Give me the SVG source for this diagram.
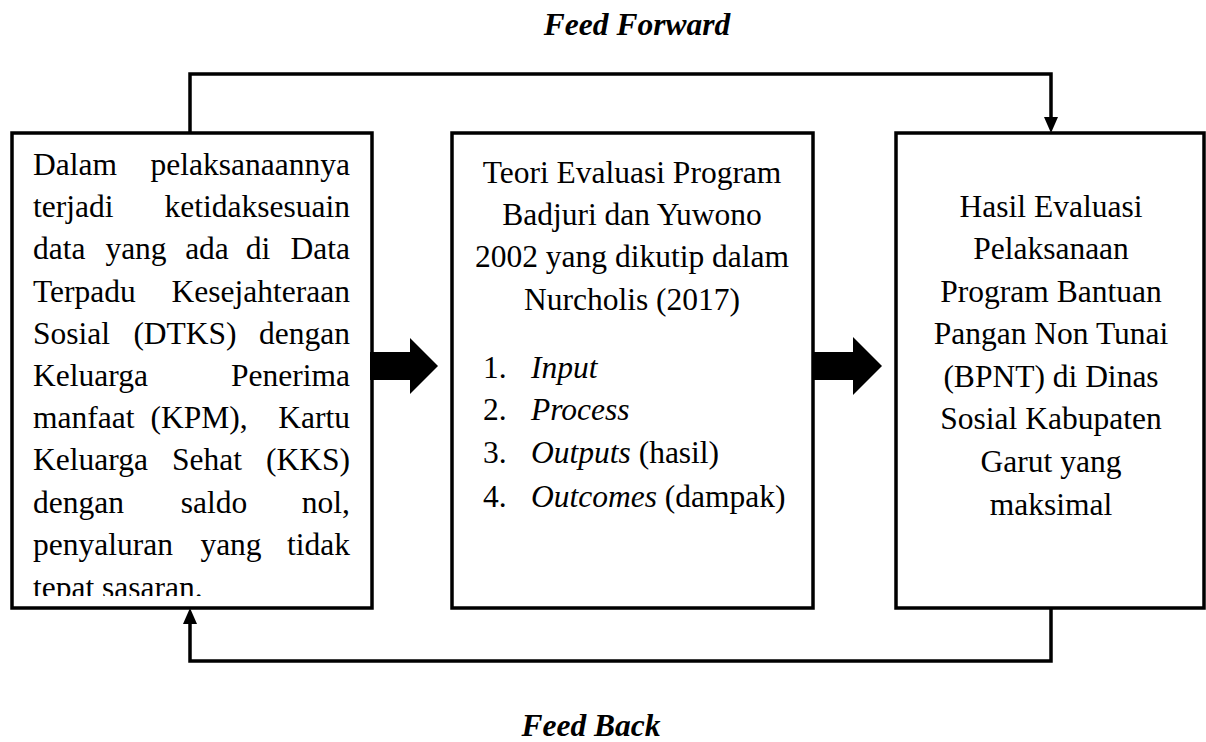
<svg xmlns="http://www.w3.org/2000/svg" width="1206" height="742" viewBox="0 0 1206 742">
<style>
.t{font-family:"Liberation Serif","Times New Roman",serif;font-size:31.5px;fill:#000}
.i{font-style:italic}
.bi{font-family:"Liberation Serif","Times New Roman",serif;font-size:31.5px;font-weight:bold;font-style:italic;fill:#000}
.box{fill:#fff;stroke:#000;stroke-width:3.5}
.ln{fill:none;stroke:#000;stroke-width:3.5}
.m{text-anchor:middle}
.e{text-anchor:end}
</style>
<defs>
<clipPath id="clipL"><rect x="14" y="135" width="356" height="461"/></clipPath>
</defs>
<rect width="1206" height="742" fill="#fff"/>
<text class="bi" x="637" y="35" text-anchor="middle">Feed Forward</text>
<text class="bi" x="591" y="736" text-anchor="middle">Feed Back</text>
<g id="connectors">
<polyline class="ln" points="190,133 190,74 1051,74 1051,118"/>
<polygon points="1044,117 1058,117 1051,133" fill="#000"/>
<polyline class="ln" points="1051,608 1051,661 190,661 190,623"/>
<polygon points="183,624 197,624 190,608" fill="#000"/>
</g>
<g id="node-left">
<rect class="box" x="12" y="133" width="360" height="475"/>
<g class="t" clip-path="url(#clipL)">
<text x="33" y="175">Dalam</text><text class="e" x="350" y="175">pelaksanaannya</text>
<text x="33" y="217">terjadi</text><text class="e" x="350" y="217">ketidaksesuain</text>
<text x="33" y="259">data</text><text class="m" x="136" y="259">yang</text><text class="m" x="207" y="259">ada</text><text class="m" x="258" y="259">di</text><text class="e" x="350" y="259">Data</text>
<text x="33" y="302">Terpadu</text><text class="e" x="350" y="302">Kesejahteraan</text>
<text x="33" y="344">Sosial</text><text class="m" x="185" y="344">(DTKS)</text><text class="e" x="350" y="344">dengan</text>
<text x="33" y="386">Keluarga</text><text class="e" x="350" y="386">Penerima</text>
<text x="33" y="428">manfaat</text><text class="m" x="199" y="428">(KPM),</text><text class="e" x="350" y="428">Kartu</text>
<text x="33" y="470">Keluarga</text><text class="m" x="207" y="470">Sehat</text><text class="e" x="350" y="470">(KKS)</text>
<text x="33" y="513">dengan</text><text class="m" x="214" y="513">saldo</text><text class="e" x="350" y="513">nol,</text>
<text x="33" y="555">penyaluran</text><text class="m" x="231" y="555">yang</text><text class="e" x="350" y="555">tidak</text>
<text x="33" y="598">tepat sasaran.</text>
</g>
</g>
<g id="node-middle">
<rect class="box" x="452" y="133" width="361" height="475"/>
<g class="t m">
<text x="632" y="183">Teori Evaluasi Program</text>
<text x="632" y="225">Badjuri dan Yuwono</text>
<text x="632" y="267">2002 yang dikutip dalam</text>
<text x="632" y="310">Nurcholis (2017)</text>
</g>
<g class="t">
<text x="483" y="378">1.</text><text class="i" x="531" y="378">Input</text>
<text x="483" y="420">2.</text><text class="i" x="531" y="420">Process</text>
<text x="483" y="463">3.</text><text x="531" y="463"><tspan class="i">Outputs</tspan> (hasil)</text>
<text x="483" y="507">4.</text><text x="531" y="507"><tspan class="i">Outcomes</tspan> (dampak)</text>
</g>
</g>
<g id="node-right">
<rect class="box" x="896" y="133" width="308" height="475"/>
<g class="t m">
<text x="1051" y="217">Hasil Evaluasi</text>
<text x="1051" y="259">Pelaksanaan</text>
<text x="1051" y="302">Program Bantuan</text>
<text x="1051" y="344">Pangan Non Tunai</text>
<text x="1051" y="387">(BPNT) di Dinas</text>
<text x="1051" y="429">Sosial Kabupaten</text>
<text x="1051" y="472">Garut yang</text>
<text x="1051" y="515">maksimal</text>
</g>
</g>
<g id="fat-arrows">
<polygon points="370,352 410,352 410,338 438,366 410,394 410,380 370,380" fill="#000"/>
<polygon points="812,352 853,352 853,337 882,366 853,395 853,380 812,380" fill="#000"/>
</g>
</svg>
